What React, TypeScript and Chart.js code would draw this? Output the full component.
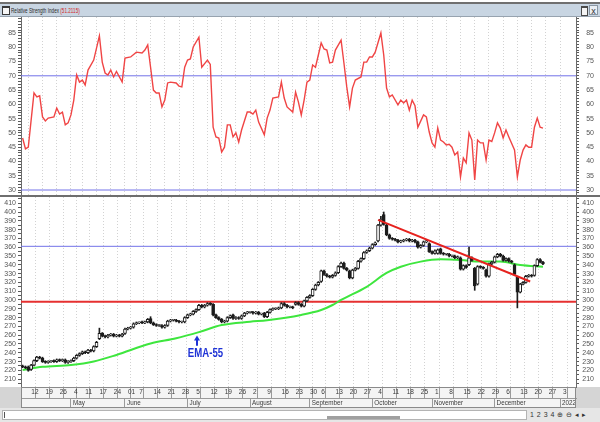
import { useEffect, useRef } from 'react';
import { Chart, registerables } from 'chart.js';

Chart.register(...registerables);

const FONT = '"Liberation Sans", Arial, sans-serif';

// trading-day slots: 12 Apr 2021 = 0
const firstSlot = -2;
const opens = [225,224,224,221,226,231,235,234,230,229,
230,231,230,232,231,232,229,230,231,234,
237,239,241,240,243,242,247,256,262,259,
258,260,261,259,260,259,262,267,268,269,
273,274,275,274,275,279,274,272,271,271,
269,271,276,277,277,276,275,275,280,283,
284,287,289,294,292,294,296,295,283,280,
278,275,276,280,283,279,280,279,282,285,
286,286,285,286,284,285,281,286,289,290,
290,291,296,294,292,292,295,297,295,293,
299,303,305,312,317,321,333,329,327,326,
328,331,338,342,336,333,325,334,336,344,
347,354,356,359,363,367,385,397,385,374,
370,369,368,366,367,368,369,367,368,366,
360,362,366,364,355,353,353,358,353,352,
352,350,350,348,348,335,339,340,348,336,
318,338,337,334,327,341,343,349,352,350,
345,347,344,340,326,309,318,320,327,328,
328,339,346,343];
const highs = [226,225,225,227,232,236,236,235,231,231,
231,232,233,233,233,233,231,232,235,238,
240,242,242,244,244,248,253,268,263,260,
261,262,262,261,261,262,268,269,270,274,
275,275,276,276,279,281,275,273,272,272,
272,277,278,278,278,277,276,281,284,285,
288,290,295,295,295,297,297,296,284,281,
279,277,281,283,284,281,281,283,286,287,
287,287,287,287,285,286,287,290,291,291,
292,297,297,295,293,293,298,298,296,300,
304,306,313,318,321,334,334,330,328,329,
332,339,343,343,337,334,335,337,345,348,
355,357,360,364,366,386,395,400,386,375,
371,370,369,368,369,370,370,369,369,367,
363,367,368,365,356,357,358,359,354,353,
353,351,351,350,349,340,340,360,349,337,
339,339,338,335,342,344,350,353,353,351,
348,348,345,341,327,319,321,328,329,329,
340,347,347,344];
const lows = [223,222,219,220,225,230,233,229,228,228,
229,229,229,230,230,228,228,229,230,233,
236,238,239,239,241,241,246,255,258,257,
257,259,258,258,258,258,261,266,267,268,
272,273,273,273,274,273,271,270,270,268,
268,270,275,276,275,274,274,274,279,282,
283,286,288,291,291,293,294,282,279,277,
274,274,275,279,278,278,278,278,281,284,
285,284,284,283,283,280,280,285,288,289,
289,290,293,291,291,290,294,294,292,292,
298,302,304,311,316,320,328,326,325,325,
327,330,337,335,333,324,324,333,335,343,
346,353,355,358,362,366,384,385,373,369,
368,367,365,365,366,367,366,366,365,359,
359,361,365,354,352,352,352,352,351,351,
349,349,347,347,334,334,336,339,344,311,
317,336,335,326,326,340,342,348,349,344,
344,343,342,328,291,308,317,319,326,326,
327,338,342,340];
const closes = [224,223,220,226,231,235,234,230,229,230,
230,230,232,231,232,229,230,231,234,237,
239,241,240,243,242,247,252,262,259,258,
260,261,259,260,259,261,267,268,269,273,
274,274,274,275,278,274,272,271,271,269,
271,276,277,277,276,275,275,280,283,284,
287,289,294,292,294,296,295,283,280,278,
275,276,280,282,279,280,279,282,285,286,
286,285,286,284,284,281,286,289,290,290,
291,296,294,292,292,291,297,295,293,299,
303,305,312,317,320,333,329,327,326,328,
331,338,342,336,334,325,334,336,344,347,
354,356,359,363,365,385,392,386,374,370,
369,368,366,367,368,369,367,368,366,360,
362,366,367,355,353,356,357,353,352,352,
350,350,348,349,335,339,337,348,345,316,
338,337,336,327,341,343,349,352,350,345,
347,344,343,329,309,318,320,327,328,327,
339,346,343,341];

const rsiSlots = [-2,-1,0,2,3,4,5,6,7,9,
10,11,12,13,14,15,16,17,18,19,
20,21,23,25,26,27,28,29,30,31,
33,34,36,38,40,41,42,43,44,45,
46,47,48,49,50,52,53,54,55,56,
57,58,60,61,63,64,65,66,67,68,
69,70,71,72,73,74,75,77,78,79,
80,81,83,84,85,86,88,89,90,91,
93,94,95,96,97,98,99,100,101,103,
104,105,106,107,108,110,111,112,113,114,
115,117,118,119,120,121,122,124,125,126,
127,128,130,131,132,133,134,135,136,137,
139,140,141,142,143,144,145,146,147,148,
149,150,151,152,153,154,155,156,157,158,
159,160,161,162,163,164,165,166,167,168,
169,171,172,173,174,175,176,177,178,179,
180,181];
const rsiValues = [48.2,44.4,45,64,62.6,63,55.6,54.2,55.2,55.6,
58.7,56.6,57.3,52.8,53.5,56.3,61.5,70.3,67.8,68.5,
66.8,72,75.5,84,74.8,71,70.3,72,69.6,71.5,
67.8,76.2,76.6,78.3,78,79,80.8,73,65,64,
64,59.1,61.5,67.5,67.8,67.5,66.4,66.1,73,75.5,
75.9,80.1,83.5,73,75.5,74,52,48.6,48.2,43.3,
45,52.8,52.8,48.6,50,46.8,51,57.3,57.3,56.6,
58,53.8,49.3,55.2,58,62.2,62.6,67.8,62.2,59.1,
57.3,64.3,60.8,56.3,61.5,67.8,68.5,73.8,73,81.5,
79.4,79,74.5,74.8,79,82.5,74.5,66.1,59.1,65.7,
68.5,69.6,74.8,74.8,76.6,76.6,78.3,85,77.3,65.7,
62.6,63.3,59.8,61.5,60.5,61.5,58,61.5,59.5,52,
56.3,55.6,50.3,46.5,45,51.7,47.5,46.8,45.8,46,
45,42.3,43.3,34.6,41.2,39.5,50,47.5,33.5,47.5,
46.5,46.5,40.5,47.5,47,50,53.5,51.7,48.2,51,
48.6,44,34.6,40.5,44,45.8,45,45,52,55.2,
52,51.7];

const emaSlots = [-2,5,15,23,31,43,52,60,68,78,84,96,103,107,110,119,126,131,138,145,152,159,166,173,181];
const emaValues = [220.5,224,226,230,237.5,250.5,256.5,263.5,271.5,275.3,277,283,288.6,294.3,300,315,330.7,337.8,343.6,346.2,345.5,343.6,343.6,339.8,337.8];

const trendSlots = [123, 176.5];
const trendValues = [391, 321];

const rsiLevels = [70, 30];
const resistanceLevel = 361;
const supportLevel = 298;

const weekTickSlots = [0,5,10,15,19,24,29,34,38,43,48,53,58,63,68,73,78,83,88,93,98,102,107,112,117,122,127,132,137,142,147,152,157,162,167,172,177,182,187];
const weekTickLabels = ['12','19','26','4','11','17','24','01','7','14','21','28','5','12','19','26','2','9','16','23','30','6','13','20','27','4','11','18','25','1','8','15','22','29','6','13','20','27','3'];
const monthTickSlots = [15,34,56,78,99,121,142,164,187];
const monthTickLabels = ['May','June','July','August','September','October','November','December','2022'];

const rsiTitle = 'Relative Strength Index';
const rsiLastValue = '(51.2115)';
const emaLabel = 'EMA-55';
const emaLabelSlot = 62.3;
const emaLabelValue = 238.5;
const emaArrowSlot = 59.5;
const emaArrowFrom = 248;
const emaArrowTo = 258.5;

const xMin = -2.57;
const xMax = 192.62;
const rsiMin = 27.9;
const rsiMax = 90.6;
const priceMin = 201.1;
const priceMax = 417.05;

const candleSlots = closes.map((_, i) => firstSlot + i);

function yAxis(position: 'left' | 'right', min: number, max: number, step: number, every: number, lo: number, hi: number) {
  return {
    type: 'linear' as const,
    position,
    min,
    max,
    afterFit: (s: any) => {
      s.width = position === 'left' ? 21 : 18;
      s.paddingTop = 0;
      s.paddingBottom = 0;
    },
    grid: { drawOnChartArea: false, drawTicks: true, tickLength: 3, color: '#5a5a5a', tickColor: '#5a5a5a', tickWidth: 1 },
    border: { display: true, color: '#6a6a6a', width: 1 },
    ticks: {
      stepSize: step,
      autoSkip: false,
      includeBounds: false,
      padding: 2,
      crossAlign: position === 'left' ? ('near' as const) : ('far' as const),
      color: '#555555',
      font: { size: 7, family: FONT },
      callback: (v: any) => {
        const r = Math.round(Number(v));
        return Math.abs(Number(v) - r) < 1e-6 && r % every === 0 && r >= lo && r <= hi ? String(r) : '';
      },
    },
  };
}

function dayAxis(withLabels: boolean) {
  return {
    type: 'linear' as const,
    position: 'bottom' as const,
    min: xMin,
    max: xMax,
    offset: false,
    afterBuildTicks: (s: any) => {
      s.ticks = weekTickSlots.map((v) => ({ value: v }));
    },
    afterFit: (s: any) => {
      s.height = withLabels ? 11 : 0;
      s.paddingLeft = 0;
      s.paddingRight = 0;
    },
    grid: {
      color: '#d2d2d2',
      lineWidth: 1,
      drawTicks: withLabels,
      tickLength: 11,
      tickColor: '#9a9a9a',
      tickWidth: 1,
      tickBorderDash: [],
    },
    border: { display: withLabels, color: '#8a8a8a', dash: [1, 2] },
    ticks: {
      display: withLabels,
      autoSkip: false,
      maxRotation: 0,
      minRotation: 0,
      align: 'start' as const,
      labelOffset: 3,
      padding: -10,
      color: '#3a3a3a',
      font: { size: 6.5, family: FONT },
      callback: (_v: any, i: number) => weekTickLabels[i] ?? '',
    },
  };
}

const priceFrame = {
  id: 'priceFrame',
  beforeDraw(chart: any) {
    const { ctx, chartArea: a, width, height } = chart;
    ctx.save();
    ctx.fillStyle = '#ffffff';
    ctx.fillRect(0, 0, width, height);
    ctx.fillStyle = '#d5d5d5';
    ctx.fillRect(0, a.bottom, a.left, height - a.bottom);
    ctx.fillRect(a.right, a.bottom, width - a.right, height - a.bottom);
    ctx.fillStyle = '#f4f4f4';
    ctx.fillRect(a.left, a.bottom, a.right - a.left, height - a.bottom);
    ctx.restore();
  },
  afterDraw(chart: any) {
    const { ctx, chartArea: a, height } = chart;
    ctx.save();
    ctx.strokeStyle = '#8a8a8a';
    ctx.lineWidth = 1;
    ctx.strokeRect(Math.round(a.left) + 0.5, Math.round(a.bottom) + 0.5, Math.round(a.right - a.left) - 1, height - Math.round(a.bottom) - 1);
    ctx.restore();
  },
  afterDatasetsDraw(chart: any) {
    const { ctx } = chart;
    const xs = chart.scales.x;
    const ys = chart.scales.yP;
    const ax = Math.round(xs.getPixelForValue(emaArrowSlot));
    const y1 = ys.getPixelForValue(emaArrowFrom);
    const y2 = ys.getPixelForValue(emaArrowTo);
    ctx.save();
    ctx.strokeStyle = '#1f33d6';
    ctx.fillStyle = '#1f33d6';
    ctx.lineWidth = 2;
    ctx.beginPath();
    ctx.moveTo(ax, y1);
    ctx.lineTo(ax, y2 + 3);
    ctx.stroke();
    ctx.beginPath();
    ctx.moveTo(ax - 3, y2 + 4);
    ctx.lineTo(ax + 3, y2 + 4);
    ctx.lineTo(ax, y2 - 1);
    ctx.closePath();
    ctx.fill();
    const tx = xs.getPixelForValue(emaLabelSlot);
    const ty = ys.getPixelForValue(emaLabelValue);
    ctx.translate(tx, ty);
    ctx.scale(0.8, 1);
    ctx.font = 'bold 12px ' + FONT;
    ctx.textAlign = 'center';
    ctx.textBaseline = 'middle';
    ctx.fillText(emaLabel, 0, 0);
    ctx.restore();
  },
};

const rsiFrame = {
  id: 'rsiFrame',
  beforeDraw(chart: any) {
    const { ctx, width, height } = chart;
    ctx.save();
    ctx.fillStyle = '#ffffff';
    ctx.fillRect(0, 0, width, height);
    ctx.restore();
  },
};

export default function App() {
  const rsiRef = useRef<HTMLCanvasElement>(null);
  const priceRef = useRef<HTMLCanvasElement>(null);

  useEffect(() => {
    document.body.style.margin = '0';
    Chart.defaults.font.family = FONT;

    const rsiChart = new Chart(rsiRef.current as HTMLCanvasElement, {
      type: 'line',
      data: {
        datasets: [
          {
            label: 'RSI',
            data: rsiSlots.map((s, i) => ({ x: s, y: rsiValues[i] })),
            borderColor: '#f04545',
            borderWidth: 1.4,
            pointRadius: 0,
            tension: 0,
            order: 0,
            yAxisID: 'yR',
          },
          ...rsiLevels.map((lvl) => ({
            label: 'level ' + lvl,
            data: [{ x: xMin, y: lvl }, { x: xMax, y: lvl }],
            borderColor: '#7272e8',
            borderWidth: 1,
            pointRadius: 0,
            order: 1,
            yAxisID: 'yR',
          })),
        ],
      },
      options: {
        responsive: false,
        animation: false,
        events: [],
        layout: { padding: { left: 0, right: 6, top: 0, bottom: 0 } },
        plugins: { legend: { display: false }, tooltip: { enabled: false } },
        scales: {
          x: dayAxis(false),
          yR: yAxis('left', rsiMin, rsiMax, 1, 5, 30, 85),
          yRR: yAxis('right', rsiMin, rsiMax, 1, 5, 30, 85),
        } as any,
      },
      plugins: [rsiFrame],
    });

    const priceChart = new Chart(priceRef.current as HTMLCanvasElement, {
      type: 'line',
      data: {
        datasets: [
          {
            type: 'line',
            label: 'trend',
            data: trendSlots.map((s, i) => ({ x: s, y: trendValues[i] })),
            borderColor: '#e6221e',
            borderWidth: 2,
            pointRadius: 0,
            order: 0,
            yAxisID: 'yP',
          },
          {
            type: 'bar',
            label: 'body',
            data: candleSlots.map((s, i) => ({ x: s, y: [opens[i], closes[i]] })),
            backgroundColor: (c: any) => (c.dataIndex !== undefined && closes[c.dataIndex] >= opens[c.dataIndex] ? '#ffffff' : '#1c1c1c'),
            borderColor: '#1c1c1c',
            borderWidth: 1,
            borderSkipped: false,
            barThickness: 3,
            minBarLength: 1,
            grouped: false,
            order: 1,
            yAxisID: 'yP',
          },
          {
            type: 'bar',
            label: 'wick',
            data: candleSlots.map((s, i) => ({ x: s, y: [lows[i], highs[i]] })),
            backgroundColor: '#1c1c1c',
            barThickness: 1,
            grouped: false,
            order: 2,
            yAxisID: 'yP',
          },
          {
            type: 'line',
            label: 'EMA-55',
            data: emaSlots.map((s, i) => ({ x: s, y: emaValues[i] })),
            borderColor: '#3ee63e',
            borderWidth: 2,
            pointRadius: 0,
            cubicInterpolationMode: 'monotone',
            order: 3,
            yAxisID: 'yP',
          },
          {
            type: 'line',
            label: 'resistance',
            data: [{ x: xMin, y: resistanceLevel }, { x: xMax, y: resistanceLevel }],
            borderColor: '#7272e8',
            borderWidth: 1,
            pointRadius: 0,
            order: 4,
            yAxisID: 'yP',
          },
          {
            type: 'line',
            label: 'support',
            data: [{ x: xMin, y: supportLevel }, { x: xMax, y: supportLevel }],
            borderColor: '#e63030',
            borderWidth: 2,
            pointRadius: 0,
            order: 4,
            yAxisID: 'yP',
          },
        ] as any,
      },
      options: {
        responsive: false,
        animation: false,
        events: [],
        layout: { padding: { left: 0, right: 6, top: 1, bottom: 0 } },
        plugins: { legend: { display: false }, tooltip: { enabled: false } },
        scales: {
          x: dayAxis(true),
          x2: {
            type: 'linear',
            position: 'bottom',
            min: xMin,
            max: xMax,
            offset: false,
            afterBuildTicks: (s: any) => {
              s.ticks = monthTickSlots.map((v) => ({ value: v }));
            },
            afterFit: (s: any) => {
              s.height = 10;
              s.paddingLeft = 0;
              s.paddingRight = 0;
            },
            grid: { drawOnChartArea: false, drawTicks: true, tickLength: 10, color: '#9a9a9a', tickColor: '#9a9a9a', tickWidth: 1 },
            border: { display: true, color: '#9a9a9a' },
            ticks: {
              autoSkip: false,
              maxRotation: 0,
              minRotation: 0,
              align: 'start',
              labelOffset: 2,
              padding: -9,
              color: '#3a3a3a',
              font: { size: 6.3, family: FONT },
              callback: (_v: any, i: number) => monthTickLabels[i] ?? '',
            },
          },
          yP: yAxis('left', priceMin, priceMax, 5, 10, 210, 410),
          yPR: yAxis('right', priceMin, priceMax, 5, 10, 210, 410),
        } as any,
      },
      plugins: [priceFrame],
    });

    return () => {
      rsiChart.destroy();
      priceChart.destroy();
    };
  }, []);

  const abs = (s: any) => ({ position: 'absolute' as const, ...s });

  return (
    <div style={abs({ left: 0, top: 0, width: 600, height: 422, overflow: 'hidden', background: '#ffffff', fontFamily: FONT })}>
      <div style={abs({ left: 0, top: 2, width: 600, height: 2, background: '#707070' })} />
      <div style={abs({ left: 0, top: 4, width: 600, height: 12, background: '#c8d5e2', borderBottom: '1px solid #97a3af' })} />
      <div style={abs({ left: 2, top: 6, width: 6, height: 6, border: '1px solid #3a3a3a', borderTopWidth: 2, background: '#f6f6f6' })} />
      <div style={abs({ left: 11, top: 5, height: 11, fontSize: 7, lineHeight: '11px', color: '#2a2a2a', whiteSpace: 'nowrap', transform: 'scaleX(0.66)', transformOrigin: 'left center' })}>
        {rsiTitle} <span style={{ color: '#d22828' }}>{rsiLastValue}</span>
      </div>
      <div style={abs({ left: 581, top: 6, width: 5, height: 7, border: '1px solid #4a4a4a', borderTopWidth: 2, background: '#f4f4f4' })} />
      <div style={abs({ left: 589, top: 5, width: 9, height: 10, fontSize: 9, lineHeight: '10px', color: '#333', textAlign: 'center', background: '#e9eef3', border: '1px solid #8a96a2', boxSizing: 'border-box' })}>x</div>

      <canvas ref={rsiRef} width={600} height={179} style={abs({ left: 0, top: 17, width: 600, height: 179, display: 'block' })} />
      <canvas ref={priceRef} width={600} height={212} style={abs({ left: 0, top: 196, width: 600, height: 212, display: 'block' })} />
      <div style={abs({ left: 0, top: 195, width: 600, height: 2, background: '#6e6e6e' })} />

      <div style={abs({ left: 0, top: 408, width: 600, height: 14, background: '#e6e6e6' })} />
      <div style={abs({ left: 2, top: 410, width: 525, height: 10, background: '#ffffff', border: '1px solid #b4b4b4', boxSizing: 'border-box' })} />
      <div style={abs({ left: 4, top: 412, width: 1, height: 6, background: '#555' })} />
      <div style={abs({ left: 327, top: 416, width: 73, height: 3, background: '#a0a0a0' })} />
      <div style={abs({ left: 530, top: 410, height: 10, fontSize: 7, lineHeight: '10px', color: '#333', whiteSpace: 'nowrap', letterSpacing: '0.5px' })}>
        1 2 3 4 ⊕ ⊖ ◂ ▸
      </div>
    </div>
  );
}
